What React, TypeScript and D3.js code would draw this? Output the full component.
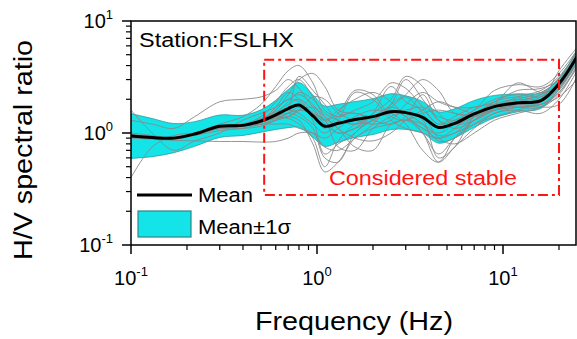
import React from "react";
import * as d3 from "d3";

// ---------- data ----------
const FREQ = [0.1, 0.13, 0.17, 0.22, 0.3, 0.4, 0.5, 0.6, 0.7, 0.8, 0.95, 1.1, 1.3, 1.6, 2.0, 2.5, 3.0, 3.7, 4.5, 5.5, 7, 9, 12, 16, 20, 25];
const MEAN = [0.94, 0.91, 0.9, 0.98, 1.15, 1.17, 1.28, 1.45, 1.65, 1.78, 1.42, 1.15, 1.22, 1.32, 1.4, 1.55, 1.52, 1.38, 1.12, 1.22, 1.48, 1.72, 1.86, 1.95, 2.75, 4.8];
const SIGMA_LOG = [0.2, 0.17, 0.13, 0.11, 0.1, 0.09, 0.1, 0.13, 0.17, 0.2, 0.19, 0.18, 0.17, 0.16, 0.16, 0.16, 0.15, 0.14, 0.14, 0.13, 0.12, 0.1, 0.08, 0.07, 0.05, 0.06];

const WIN_01 = [1.0, 0.95, 0.9, 1.0, 1.2, 1.4, 1.8, 2.6, 3.6, 4.0, 2.8, 1.6, 1.4, 1.6, 1.9, 2.8, 2.5, 1.7, 1.2, 1.3, 1.6, 2.0, 2.2, 2.1, 2.6, 4.6];
const WIN_02 = [0.95, 0.9, 0.88, 0.95, 1.05, 1.1, 1.2, 1.3, 1.4, 1.3, 0.8, 0.45, 0.55, 0.9, 1.1, 1.2, 1.3, 1.0, 0.65, 0.9, 1.2, 1.5, 1.7, 1.8, 2.4, 4.2];
const WIN_03 = [1.6, 1.0, 0.7, 0.85, 1.0, 1.3, 1.5, 1.7, 2.0, 2.2, 1.8, 1.3, 1.0, 1.1, 1.5, 2.0, 3.2, 2.6, 1.5, 1.2, 1.3, 1.6, 2.0, 2.3, 3.0, 5.0];
const WIN_04 = [0.4, 0.75, 0.95, 1.0, 1.1, 1.1, 1.15, 1.3, 1.5, 1.6, 1.5, 1.3, 0.75, 0.7, 1.1, 1.4, 1.5, 1.3, 0.6, 0.75, 1.4, 1.8, 2.0, 1.9, 2.7, 4.9];
const WIN_05 = [1.3, 1.2, 1.1, 1.4, 1.9, 2.0, 2.1, 2.4, 3.0, 2.5, 1.7, 1.3, 1.5, 2.4, 2.2, 1.4, 1.3, 1.5, 1.6, 1.5, 1.4, 1.6, 1.9, 2.2, 3.1, 5.3];
const WIN_06 = [0.9, 0.88, 0.86, 0.85, 0.84, 0.84, 0.83, 0.84, 0.9, 1.0, 1.0, 0.9, 1.1, 1.4, 1.6, 1.5, 1.2, 0.7, 0.55, 0.9, 1.3, 1.6, 1.8, 1.8, 2.3, 4.0];
const WIN_07 = [0.95, 0.92, 0.92, 1.0, 1.15, 1.2, 1.3, 1.5, 1.9, 2.3, 2.0, 1.5, 1.3, 1.2, 1.3, 1.7, 2.2, 3.0, 2.4, 1.5, 1.5, 1.7, 2.1, 2.4, 3.2, 5.2];
const WIN_08 = [0.92, 0.9, 0.9, 0.96, 1.1, 1.15, 1.25, 1.4, 1.5, 1.4, 1.1, 0.6, 0.55, 1.0, 1.3, 1.6, 1.4, 1.0, 0.55, 0.75, 1.1, 1.5, 1.6, 1.5, 2.0, 3.6];
const WIN_09 = [0.97, 0.93, 0.9, 0.98, 1.1, 1.2, 1.3, 1.6, 2.2, 3.0, 3.4, 2.6, 1.6, 1.5, 1.4, 1.5, 1.6, 1.7, 1.4, 1.3, 1.6, 2.4, 2.7, 2.6, 3.4, 5.5];
const WIN_10 = [0.94, 0.91, 0.9, 0.97, 1.12, 1.18, 1.3, 1.5, 1.6, 1.5, 1.2, 1.0, 1.3, 2.3, 2.0, 1.3, 1.1, 1.0, 0.9, 1.1, 1.5, 1.8, 1.7, 1.7, 2.2, 4.0];
const WIN_11 = [0.93, 0.9, 0.9, 0.98, 1.13, 1.2, 1.35, 1.55, 1.8, 2.0, 1.6, 1.2, 1.0, 1.1, 1.3, 1.8, 3.0, 2.0, 1.3, 1.1, 1.3, 1.8, 2.8, 2.3, 2.6, 4.4];
const WIN_12 = [0.95, 0.92, 0.91, 0.99, 1.1, 1.15, 1.2, 1.3, 1.4, 1.6, 1.7, 1.4, 1.1, 0.75, 0.7, 1.2, 1.3, 1.2, 0.95, 1.0, 1.4, 1.6, 1.7, 1.8, 2.1, 3.0];
const WIN_13 = [0.96, 0.93, 0.91, 0.99, 1.11, 1.17, 1.3, 1.6, 2.0, 1.9, 1.3, 0.65, 0.8, 1.0, 1.5, 2.6, 1.9, 1.6, 1.2, 1.4, 1.7, 1.8, 1.9, 2.0, 3.6, 5.8];
const WIN_14 = [0.93, 0.9, 0.89, 0.97, 1.1, 1.17, 1.25, 1.35, 1.5, 1.7, 1.5, 1.1, 1.4, 1.5, 1.3, 1.2, 1.4, 2.2, 1.3, 1.2, 1.4, 1.9, 2.1, 2.0, 2.9, 4.5];
const WIN_15 = [0.95, 0.91, 0.9, 0.98, 1.12, 1.18, 1.27, 1.45, 1.7, 3.2, 2.4, 1.8, 1.3, 1.2, 1.4, 1.6, 1.4, 1.1, 1.0, 1.2, 1.5, 1.6, 1.9, 2.2, 2.7, 4.7];
const WIN_16 = [0.94, 0.92, 0.9, 0.98, 1.12, 1.18, 1.28, 1.4, 1.35, 1.2, 0.9, 0.5, 0.85, 1.2, 1.4, 1.7, 1.5, 1.2, 0.85, 0.9, 1.3, 1.7, 1.8, 1.7, 1.8, 3.2];
const WIN_17 = [0.95, 0.92, 0.9, 0.98, 1.12, 1.2, 1.4, 1.9, 2.6, 3.0, 2.1, 1.4, 1.1, 0.9, 0.85, 1.0, 1.3, 1.6, 1.9, 1.7, 1.5, 1.6, 1.8, 2.1, 2.9, 5.0];
const WIN_18 = [0.93, 0.9, 0.9, 0.97, 1.1, 1.15, 1.2, 1.2, 1.2, 1.1, 1.0, 0.75, 0.7, 0.9, 1.2, 1.8, 2.1, 1.5, 0.9, 0.8, 1.0, 1.3, 1.5, 1.7, 2.3, 3.8];
const WIN_19 = [0.94, 0.91, 0.9, 0.98, 1.12, 1.2, 1.3, 1.7, 2.3, 2.0, 1.5, 1.3, 1.6, 2.0, 2.3, 1.9, 1.4, 1.1, 0.9, 1.0, 1.2, 1.4, 1.6, 1.9, 2.5, 4.3];
const WIN_20 = [0.95, 0.92, 0.9, 0.98, 1.12, 1.18, 1.28, 1.35, 1.4, 1.6, 2.1, 2.0, 1.5, 1.3, 1.2, 1.3, 1.8, 2.3, 1.9, 1.7, 1.7, 1.9, 2.4, 2.5, 3.0, 5.1];
const WINDOWS = [WIN_01, WIN_02, WIN_03, WIN_04, WIN_05, WIN_06, WIN_07, WIN_08, WIN_09, WIN_10, WIN_11, WIN_12, WIN_13, WIN_14, WIN_15, WIN_16, WIN_17, WIN_18, WIN_19, WIN_20];

const STABLE_F = [0.52, 20];
const STABLE_R = [0.28, 4.5];
const X_TICKS = [{ v: 0.1, e: "-1" }, { v: 1, e: "0" }, { v: 10, e: "1" }];
const Y_TICKS = [{ v: 0.1, e: "-1" }, { v: 1, e: "0" }, { v: 10, e: "1" }];

// ---------- layout ----------
const W = 577, H = 339;
const L = 131, R = 576, T = 21, B = 245;
const FONT = "'Liberation Sans', Arial, sans-serif";

export default function App() {
  const x = d3.scaleLog().domain([0.1, Math.pow(10, 1 + (R - 503) / 186)]).range([L, R]);
  const y = d3.scaleLog().domain([0.1, 10]).range([B, T]);

  const pts = (arr: number[]) => FREQ.map((f, i) => [f, arr[i]] as [number, number]);
  const line = d3.line<[number, number]>().x(d => x(d[0])).y(d => y(d[1])).curve(d3.curveCatmullRom.alpha(0.5));
  const band = d3.area<number>()
    .x((_, i) => x(FREQ[i]))
    .y0((_, i) => y(MEAN[i] / Math.pow(10, SIGMA_LOG[i])))
    .y1((_, i) => y(MEAN[i] * Math.pow(10, SIGMA_LOG[i])))
    .curve(d3.curveCatmullRom.alpha(0.5));

  const xMinor: number[] = [];
  [0.1, 1, 10].forEach(d => { for (let k = 2; k <= 9; k++) { const v = d * k; if (v <= x.domain()[1]) xMinor.push(v); } });
  const yMinor: number[] = [];
  [0.1, 1].forEach(d => { for (let k = 2; k <= 9; k++) yMinor.push(d * k); });

  return (
    <svg width={W} height={H} style={{ position: "absolute", left: 0, top: 0, background: "#fff" }} fontFamily={FONT}>
      <defs>
        <clipPath id="plot"><rect x={L} y={T} width={R - L} height={B - T} /></clipPath>
      </defs>
      <g clipPath="url(#plot)">
        <path d={band(MEAN) || ""} fill="#14e4e8" stroke="#2a9da0" strokeWidth={0.8} />
        {WINDOWS.map((w, i) => (
          <path key={i} d={line(pts(w)) || ""} fill="none" stroke="#8a8a8a" strokeWidth={1} strokeOpacity={0.9} />
        ))}
        <path d={line(pts(MEAN)) || ""} fill="none" stroke="#000" strokeWidth={3} />
      </g>

      {/* stable region */}
      <rect x={x(STABLE_F[0])} y={y(STABLE_R[1])} width={x(STABLE_F[1]) - x(STABLE_F[0])} height={y(STABLE_R[0]) - y(STABLE_R[1])}
        fill="none" stroke="#ff1414" strokeWidth={2} strokeDasharray="10 4 3 4" />
      <text x={329} y={185} fontSize={20} fill="#ff1414" textLength={188} lengthAdjust="spacingAndGlyphs">Considered stable</text>

      {/* frame */}
      <rect x={L} y={T} width={R - L} height={B - T} fill="none" stroke="#000" strokeWidth={1.5} />

      {/* y ticks */}
      {Y_TICKS.map(t => (
        <g key={"y" + t.v}>
          <line x1={L - 9} x2={L} y1={y(t.v)} y2={y(t.v)} stroke="#000" strokeWidth={1.5} />
          <text x={113} y={y(t.v) + 7} fontSize={20} textAnchor="end">10<tspan dy={-9} fontSize={13}>{t.e}</tspan></text>
        </g>
      ))}
      {yMinor.map(v => <line key={"ym" + v} x1={L - 5} x2={L} y1={y(v)} y2={y(v)} stroke="#000" strokeWidth={1.2} />)}

      {/* x ticks */}
      {X_TICKS.map(t => (
        <g key={"x" + t.v}>
          <line x1={x(t.v)} x2={x(t.v)} y1={B} y2={B + 9} stroke="#000" strokeWidth={1.5} />
          <text x={x(t.v)} y={285} fontSize={20} textAnchor="middle">10<tspan dy={-9} fontSize={13}>{t.e}</tspan></text>
        </g>
      ))}
      {xMinor.map(v => <line key={"xm" + v} x1={x(v)} x2={x(v)} y1={B} y2={B + 5} stroke="#000" strokeWidth={1.2} />)}

      {/* labels */}
      <text x={139} y={47} fontSize={20} textLength={155} lengthAdjust="spacingAndGlyphs">Station:FSLHX</text>
      <text x={354} y={330} fontSize={26} textAnchor="middle" textLength={198} lengthAdjust="spacingAndGlyphs">Frequency (Hz)</text>
      <text transform="translate(32,150) rotate(-90)" fontSize={26} textAnchor="middle" textLength={220} lengthAdjust="spacingAndGlyphs">H/V spectral ratio</text>

      {/* legend */}
      <line x1={137} x2={192} y1={195} y2={195} stroke="#000" strokeWidth={3} />
      <text x={198} y={202} fontSize={20} textLength={55} lengthAdjust="spacingAndGlyphs">Mean</text>
      <rect x={138} y={211} width={53} height={26} fill="#14e4e8" stroke="#2a8585" strokeWidth={1.2} />
      <text x={198} y={234} fontSize={20} textLength={93} lengthAdjust="spacingAndGlyphs">Mean±1σ</text>
    </svg>
  );
}
